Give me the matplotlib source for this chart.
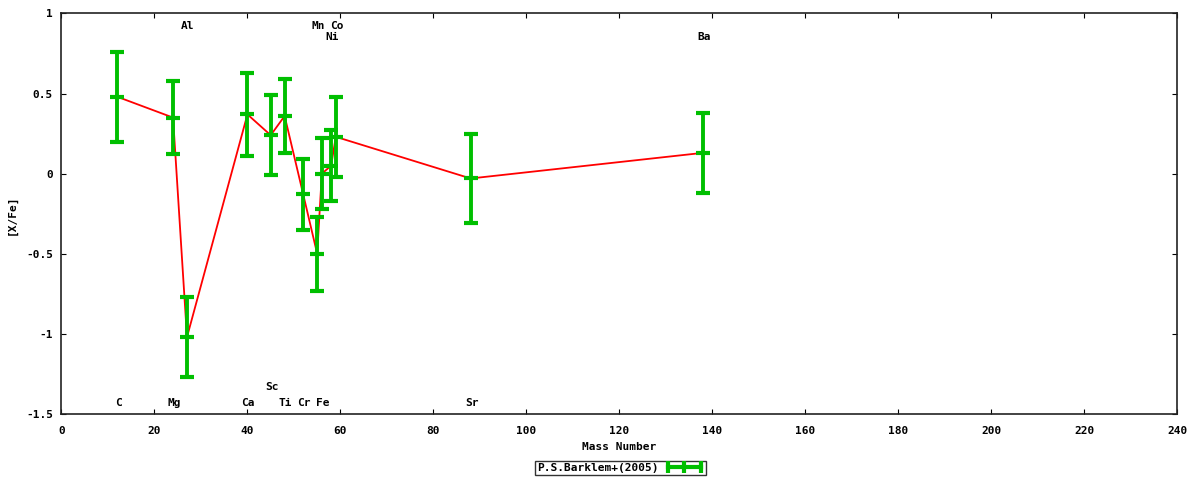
import matplotlib.pyplot as plt
from matplotlib.lines import Line2D
from matplotlib.ticker import FuncFormatter

# Barklem+(2005) abundances
elements = ['C', 'Mg', 'Al', 'Ca', 'Sc', 'Ti', 'Cr', 'Mn', 'Fe', 'Ni', 'Co', 'Sr', 'Ba']
mass = [12, 24, 27, 40, 45, 48, 52, 55, 56, 58, 59, 88, 138]
xfe = [0.48, 0.35, -1.02, 0.37, 0.24, 0.36, -0.13, -0.50, 0.00, 0.05, 0.23, -0.03, 0.13]
err = [0.28, 0.23, 0.25, 0.26, 0.25, 0.23, 0.22, 0.23, 0.22, 0.22, 0.25, 0.28, 0.25]
label_y = [-1.43, -1.43, 0.92, -1.43, -1.33, -1.43, -1.43, 0.92, -1.43, 0.85, 0.92, -1.43, 0.85]

plt.rcParams['font.family'] = 'DejaVu Sans Mono'
plt.rcParams['font.weight'] = 'bold'
plt.rcParams['font.size'] = 8

fig = plt.figure(figsize=(12, 4.8), dpi=100)
ax = fig.add_axes([0.0512, 0.1375, 0.9300, 0.8345])

green = '#00bf00'
ax.plot(mass, xfe, color='red', lw=1.3, zorder=2)
ax.errorbar(mass, xfe, yerr=err, fmt='_', color=green, ms=10, mew=3,
            elinewidth=2.8, capsize=5, capthick=3, zorder=3)

for el, m, ly in zip(elements, mass, label_y):
    ax.text(m + 0.2, ly, el, ha='center', va='center', fontsize=8, fontweight='bold')

ax.set_xlim(0, 240)
ax.set_ylim(-1.5, 1)
ax.set_xticks(range(0, 241, 20))
ax.set_yticks([-1.5, -1, -0.5, 0, 0.5, 1])
ax.yaxis.set_major_formatter(FuncFormatter(lambda v, p: '%g' % v))
ax.tick_params(direction='in', length=3.5, top=True, right=True, labelsize=8)
ax.tick_params(axis='x', pad=9)
ax.tick_params(axis='y', pad=6)
for s in ax.spines.values():
    s.set_linewidth(1.2)
    s.set_color('#222222')

ax.set_xlabel('Mass Number', fontsize=8, fontweight='bold', labelpad=4)
fig.text(12 / 1200, 1 - 215 / 480, '[X/Fe]', rotation=90, ha='center', va='center',
         fontsize=8, fontweight='bold')

handle = Line2D([], [], color=green, lw=3, marker='|', ms=9, mew=3)
leg = fig.legend([handle], ['P.S.Barklem+(2005)'], loc='center', bbox_to_anchor=(0.517, 0.025),
                 numpoints=3, markerfirst=False, fancybox=False, handlelength=3.5,
                 borderpad=0.15, handletextpad=0.6, borderaxespad=0, fontsize=8)
leg.get_frame().set_edgecolor('black')
leg.get_frame().set_linewidth(1.0)

fig.savefig('out.png', dpi=100)
